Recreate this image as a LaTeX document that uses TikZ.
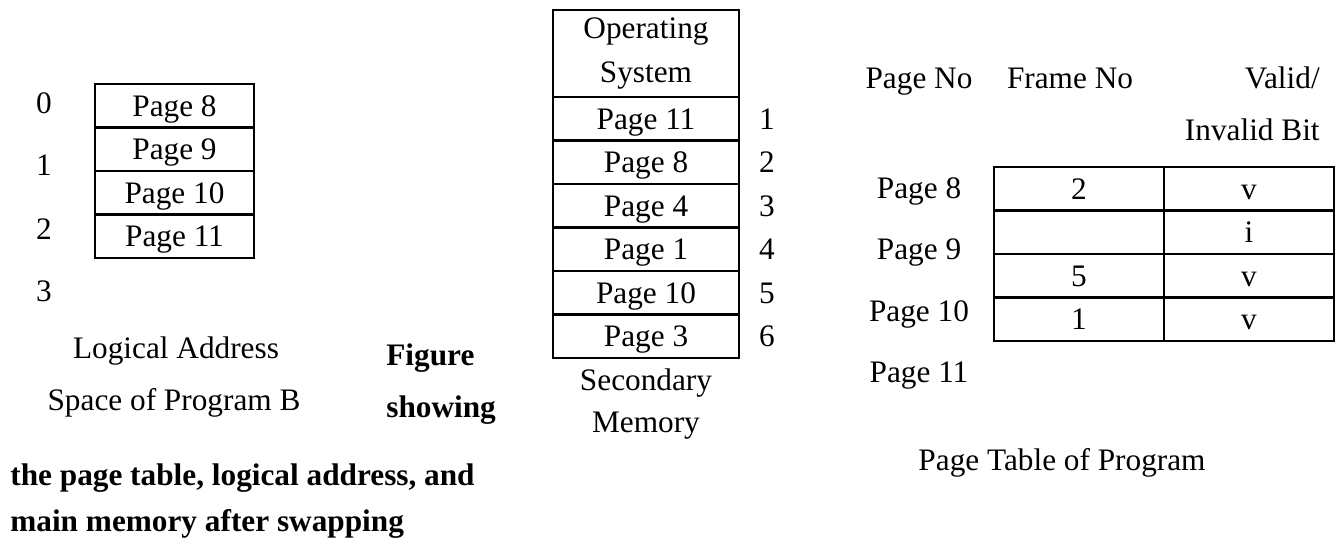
\documentclass[tikz,border=0pt]{standalone}
\usepackage{fontspec}
\setmainfont{Liberation Serif}
\begin{document}
\begin{tikzpicture}[
    every node/.style={font=\fontsize{17.8}{25.5}\selectfont},
    cell/.style={rectangle, draw, line width=1.3pt, inner sep=0pt, minimum height=0.87cm},
    txt/.style={inner sep=0pt, text height=11.8pt, text depth=0pt},
    bold/.style={txt, font=\fontsize{17.8}{25.5}\selectfont\bfseries}
]
    \useasboundingbox (0,0) rectangle (26.78,10.88);

    % Logical address space
    \node[txt] (n0) at (0.88, 8.82) {0};
    \node[txt] (n1) at (0.88, 7.58) {1};
    \node[txt] (n2) at (0.88, 6.30) {2};
    \node[txt] (n3) at (0.88, 5.06) {3};
    \node[cell, txt, minimum width=3.18cm] (lp8) at (3.49, 8.765) {Page 8};
    \node[cell, txt, minimum width=3.18cm] (lp9) at (3.49, 7.895) {Page 9};
    \node[cell, txt, minimum width=3.18cm] (lp10) at (3.49, 7.025) {Page 10};
    \node[cell, txt, minimum width=3.18cm] (lp11) at (3.49, 6.155) {Page 11};
    \node[txt] (lname1) at (3.52, 3.92) {Logical Address};
    \node[txt] (lname2) at (3.48, 2.88) {Space of Program B};

    % Caption
    \node[bold, anchor=west] (cap1) at (7.72, 3.78) {Figure};
    \node[bold, anchor=west] (cap2) at (7.72, 2.74) {showing};
    \node[bold, anchor=west] (cap3) at (0.2, 1.38) {the page table, logical address, and};
    \node[bold, anchor=west] (cap4) at (0.2, 0.46) {main memory after swapping};

    % Secondary memory
    \node[cell, minimum width=3.72cm, minimum height=1.74cm, align=center] (os) at (12.92, 9.81) {Operating\\System};
    \node[cell, txt, minimum width=3.72cm] (sp11) at (12.92, 8.505) {Page 11};
    \node[cell, txt, minimum width=3.72cm] (sp8) at (12.92, 7.635) {Page 8};
    \node[cell, txt, minimum width=3.72cm] (sp4) at (12.92, 6.765) {Page 4};
    \node[cell, txt, minimum width=3.72cm] (sp1) at (12.92, 5.895) {Page 1};
    \node[cell, txt, minimum width=3.72cm] (sp10) at (12.92, 5.025) {Page 10};
    \node[cell, txt, minimum width=3.72cm] (sp3) at (12.92, 4.155) {Page 3};
    \node[txt] (f1) at (15.34, 8.505) {1};
    \node[txt] (f2) at (15.34, 7.635) {2};
    \node[txt] (f3) at (15.34, 6.765) {3};
    \node[txt] (f4) at (15.34, 5.895) {4};
    \node[txt] (f5) at (15.34, 5.025) {5};
    \node[txt] (f6) at (15.34, 4.155) {6};
    \node[txt] (sname1) at (12.92, 3.28) {Secondary};
    \node[txt] (sname2) at (12.92, 2.44) {Memory};

    % Page table
    \node[txt] (hpage) at (18.38, 9.32) {Page No};
    \node[txt] (hframe) at (21.40, 9.32) {Frame No};
    \node[txt, anchor=east] (hvalid) at (26.40, 9.32) {Valid/};
    \node[txt, anchor=east] (hbit) at (26.40, 8.28) {Invalid Bit};
    \node[txt] (pp8) at (18.38, 7.12) {Page 8};
    \node[txt] (pp9) at (18.38, 5.89) {Page 9};
    \node[txt] (pp10) at (18.38, 4.66) {Page 10};
    \node[txt] (pp11) at (18.38, 3.43) {Page 11};
    \node[cell, txt, minimum width=3.4cm] (fr8) at (21.58, 7.105) {2};
    \node[cell, txt, minimum width=3.4cm] (vb8) at (24.98, 7.105) {v};
    \node[cell, txt, minimum width=3.4cm] (fr9) at (21.58, 6.235) {};
    \node[cell, txt, minimum width=3.4cm] (vb9) at (24.98, 6.235) {i};
    \node[cell, txt, minimum width=3.4cm] (fr10) at (21.58, 5.365) {5};
    \node[cell, txt, minimum width=3.4cm] (vb10) at (24.98, 5.365) {v};
    \node[cell, txt, minimum width=3.4cm] (fr11) at (21.58, 4.495) {1};
    \node[cell, txt, minimum width=3.4cm] (vb11) at (24.98, 4.495) {v};
    \node[txt] (tname) at (21.24, 1.68) {Page Table of Program};
\end{tikzpicture}
\end{document}
